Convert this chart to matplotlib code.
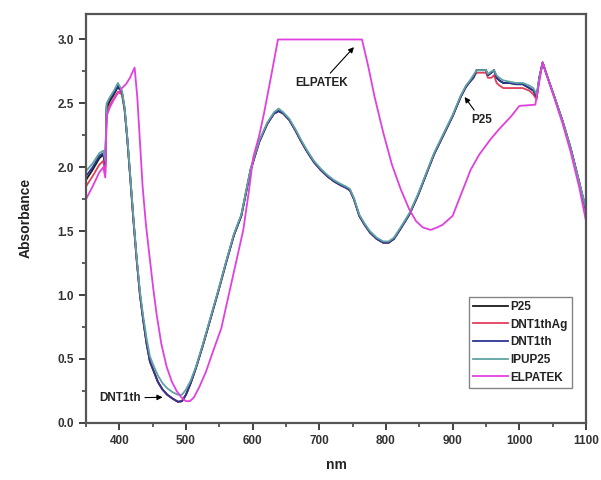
import matplotlib
matplotlib.use("Agg")
import matplotlib.pyplot as plt
from matplotlib.ticker import MultipleLocator

# wavelength grid shared by the four TiO2 samples
wl_main = [350, 360, 370, 376, 379, 381, 386, 392, 398, 404, 408, 412, 417, 421,
           426, 431, 436, 441, 446, 452, 458, 465, 472, 480, 488, 494, 500, 507,
           515, 525, 536, 548, 560, 572, 583, 597, 610, 622, 632, 639, 646, 655,
           664, 672, 682, 692, 702, 712, 722, 732, 740, 746, 752, 760, 768, 776,
           786, 796, 804, 812, 822, 835, 848, 860, 872, 885, 900, 912, 920, 926,
           931, 936, 950, 953, 958, 962, 966, 970, 976, 985, 995, 1005, 1015,
           1021, 1026, 1030, 1035, 1040, 1052, 1065, 1077, 1090, 1100]

p25 = [1.90, 1.98, 2.07, 2.10, 2.00, 2.46, 2.52, 2.57, 2.63, 2.58, 2.45, 2.22, 1.88, 1.60,
       1.28, 1.00, 0.80, 0.62, 0.48, 0.40, 0.32, 0.26, 0.22, 0.19, 0.165, 0.17, 0.22, 0.31,
       0.43, 0.60, 0.80, 1.02, 1.25, 1.47, 1.62, 1.98, 2.20, 2.34, 2.42, 2.44, 2.42, 2.37,
       2.29, 2.21, 2.12, 2.04, 1.98, 1.93, 1.89, 1.86, 1.84, 1.82, 1.75, 1.62, 1.55, 1.49,
       1.44, 1.41, 1.41, 1.44, 1.52, 1.63, 1.78, 1.94, 2.10, 2.24, 2.40, 2.55, 2.63, 2.67,
       2.70, 2.76, 2.76, 2.72, 2.74, 2.76, 2.70, 2.68, 2.66, 2.66, 2.65, 2.65, 2.62,
       2.60, 2.55, 2.70, 2.82, 2.74, 2.56, 2.36, 2.15, 1.88, 1.66]

dnt1thag = [1.85, 1.93, 2.02, 2.05, 1.95, 2.42, 2.49, 2.54, 2.59, 2.57, 2.45, 2.22, 1.88, 1.60,
            1.28, 1.00, 0.80, 0.62, 0.48, 0.40, 0.32, 0.26, 0.22, 0.19, 0.165, 0.17, 0.22, 0.31,
            0.43, 0.60, 0.80, 1.02, 1.25, 1.47, 1.62, 1.98, 2.20, 2.34, 2.42, 2.44, 2.42, 2.37,
            2.29, 2.21, 2.12, 2.04, 1.98, 1.93, 1.89, 1.86, 1.84, 1.82, 1.75, 1.62, 1.55, 1.49,
            1.44, 1.41, 1.41, 1.44, 1.52, 1.63, 1.78, 1.94, 2.10, 2.24, 2.40, 2.55, 2.63, 2.67,
            2.70, 2.74, 2.74, 2.70, 2.70, 2.72, 2.66, 2.64, 2.62, 2.62, 2.62, 2.62, 2.60,
            2.57, 2.53, 2.70, 2.82, 2.74, 2.56, 2.36, 2.15, 1.88, 1.65]

dnt1th = [1.93, 2.00, 2.09, 2.11, 2.02, 2.48, 2.54, 2.58, 2.64, 2.59, 2.46, 2.23, 1.89, 1.61,
          1.29, 1.01, 0.80, 0.62, 0.48, 0.40, 0.32, 0.26, 0.22, 0.19, 0.165, 0.17, 0.22, 0.31,
          0.43, 0.60, 0.80, 1.02, 1.25, 1.47, 1.62, 1.98, 2.20, 2.34, 2.42, 2.44, 2.42, 2.37,
          2.29, 2.21, 2.12, 2.04, 1.98, 1.93, 1.89, 1.86, 1.84, 1.82, 1.75, 1.62, 1.55, 1.49,
          1.44, 1.41, 1.41, 1.44, 1.52, 1.63, 1.78, 1.94, 2.10, 2.24, 2.40, 2.55, 2.63, 2.67,
          2.70, 2.76, 2.76, 2.72, 2.74, 2.76, 2.70, 2.68, 2.66, 2.66, 2.65, 2.65, 2.62,
          2.60, 2.55, 2.70, 2.82, 2.74, 2.56, 2.36, 2.15, 1.88, 1.67]

ipup25 = [1.97, 2.03, 2.11, 2.13, 2.05, 2.50, 2.55, 2.60, 2.66, 2.60, 2.47, 2.24, 1.90, 1.62,
          1.30, 1.03, 0.83, 0.66, 0.52, 0.44, 0.37, 0.31, 0.27, 0.24, 0.22, 0.22, 0.26, 0.33,
          0.44, 0.61, 0.81, 1.03, 1.26, 1.48, 1.63, 1.99, 2.21, 2.35, 2.43, 2.46, 2.43, 2.38,
          2.30, 2.22, 2.13, 2.05, 1.99, 1.94, 1.90, 1.87, 1.85, 1.83, 1.76, 1.63, 1.56, 1.50,
          1.45, 1.42, 1.42, 1.45, 1.53, 1.64, 1.79, 1.95, 2.11, 2.25, 2.41, 2.56, 2.64, 2.68,
          2.72, 2.76, 2.76, 2.73, 2.75, 2.76, 2.72, 2.70, 2.68, 2.67, 2.66, 2.66, 2.64,
          2.62, 2.57, 2.70, 2.82, 2.74, 2.56, 2.36, 2.15, 1.88, 1.68]

wl_elp = [350, 360, 370, 376, 379, 381, 386, 392, 398, 404, 410, 416, 423, 427, 431, 435,
          440, 445, 451, 456, 463, 471, 479, 486, 493, 500, 506, 512, 520, 530, 540, 553,
          565, 577, 586, 594, 601, 610, 617, 628, 638, 764, 773, 783, 796, 809, 822, 835,
          845, 855, 867, 877, 885, 900, 912, 927, 940, 957, 970, 988, 1000, 1024, 1026,
          1035, 1040, 1052, 1065, 1077, 1090, 1100]
elpatek = [1.75, 1.85, 1.96, 2.00, 1.92, 2.40, 2.47, 2.53, 2.58, 2.62, 2.65, 2.70, 2.78, 2.55,
           2.20, 1.85, 1.55, 1.32, 1.05, 0.85, 0.62, 0.44, 0.32, 0.25, 0.20, 0.17, 0.17, 0.20,
           0.28, 0.40, 0.55, 0.74, 1.02, 1.30, 1.51, 1.80, 2.08, 2.25, 2.42, 2.72, 3.00, 3.00,
           2.80, 2.55, 2.27, 2.02, 1.83, 1.67, 1.58, 1.53, 1.51, 1.53, 1.55, 1.62, 1.78, 1.98,
           2.10, 2.22, 2.30, 2.40, 2.48, 2.49, 2.55, 2.82, 2.74, 2.55, 2.34, 2.12, 1.84, 1.58]

series = [
    ("P25", p25, "#1a1a1a"),
    ("DNT1thAg", dnt1thag, "#e0405a"),
    ("DNT1th", dnt1th, "#2c3593"),
    ("IPUP25", ipup25, "#5fa3a3"),
]

plt.rcParams["font.family"] = ["Liberation Sans", "DejaVu Sans"]
plt.rcParams["font.weight"] = "bold"

fig = plt.figure(figsize=(6.01, 4.8), dpi=100)
ax = fig.add_axes([0.143, 0.119, 0.832, 0.852])

for name, vals, col in series:
    ax.plot(wl_main, vals, color=col, lw=1.3, label=name)
ax.plot(wl_elp, elpatek, color="#e040e0", lw=1.3, label="ELPATEK")

ax.set_xlim(350, 1100)
ax.set_ylim(0, 3.2)
ax.xaxis.set_major_locator(MultipleLocator(100))
ax.xaxis.set_minor_locator(MultipleLocator(50))
ax.yaxis.set_major_locator(MultipleLocator(0.5))
ax.yaxis.set_minor_locator(MultipleLocator(0.25))
ax.yaxis.set_major_formatter(plt.FormatStrFormatter("%.1f"))
ax.tick_params(which="major", direction="out", length=5, width=1.3, colors="#333333",
               labelsize=8.5)
ax.tick_params(which="minor", direction="out", length=3, width=1.1, colors="#333333")
for sp in ax.spines.values():
    sp.set_color("#555555")
    sp.set_linewidth(1.6)

ax.set_xlabel("nm", fontsize=10, fontweight="bold", color="#222222", labelpad=8)
ax.set_ylabel("Absorbance", fontsize=10, fontweight="bold", color="#222222", labelpad=18)

arrow = dict(arrowstyle="-|>", color="black", lw=0.8, mutation_scale=8, shrinkA=1, shrinkB=0)
ax.annotate("ELPATEK", xy=(752, 2.94), xytext=(703, 2.66), ha="center", va="center",
            fontsize=8.5, fontweight="bold", color="#222222", arrowprops=arrow)
ax.annotate("P25", xy=(918, 2.55), xytext=(943, 2.37), ha="center", va="center",
            fontsize=8.5, fontweight="bold", color="#222222", arrowprops=arrow)
ax.annotate("DNT1th", xy=(465, 0.2), xytext=(401, 0.195), ha="center", va="center",
            fontsize=8.5, fontweight="bold", color="#222222", arrowprops=arrow)

leg = ax.legend(loc="lower right", bbox_to_anchor=(0.972, 0.086), fontsize=8.5,
                frameon=True, fancybox=False, edgecolor="#666666", handlelength=3.0,
                handletextpad=0.2, labelspacing=0.48, borderpad=0.35, borderaxespad=0)
leg.get_frame().set_linewidth(1.0)
for t in leg.get_texts():
    t.set_fontweight("bold")
    t.set_color("#222222")

fig.savefig("out.png", dpi=100)
